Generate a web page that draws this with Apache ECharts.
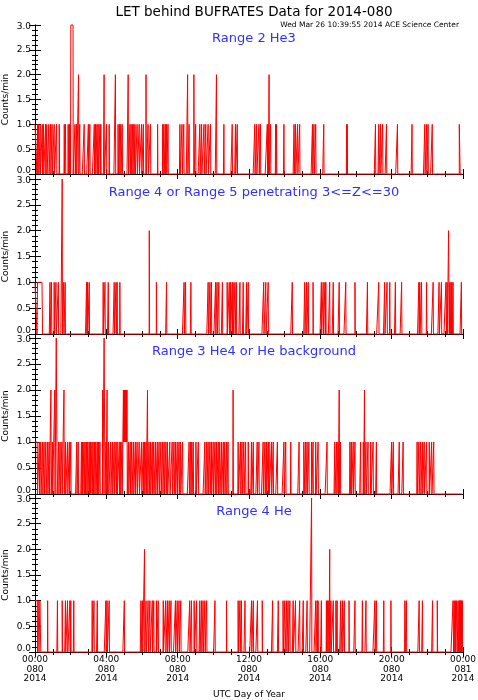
<!DOCTYPE html>
<html>
<head>
<meta charset="utf-8">
<title>LET behind BUFRATES Data for 2014-080</title>
<script src="https://cdn.jsdelivr.net/npm/echarts@6/dist/echarts.min.js"></script>
<style>
    html, body { margin: 0; padding: 0; background: #fff; }
    #chart { width: 478px; height: 700px; }
</style>
</head>
<body>
<div id="chart"></div>
<script>
var minutesPerDay = 1440;
var tickLabels = ['00:00\n080\n2014', '04:00\n080\n2014', '08:00\n080\n2014', '12:00\n080\n2014',
    '16:00\n080\n2014', '20:00\n080\n2014', '00:00\n081\n2014'];
var yTicks = ['0.0', '0.5', '1.0', '1.5', '2.0', '2.5', '3.0'];
var panelTitles = ['Range 2 He3', 'Range 4 or Range 5 penetrating 3<=Z<=30',
    'Range 3 He4 or He background', 'Range 4 He'];

// minute of day (0..1439) where the count is 1, 2 or 3; all other minutes read 0
var he3Ones = [0, 1, 2, 3, 4, 5, 6, 9, 13, 18, 25, 29, 36, 40, 47, 53, 58, 65, 73, 82, 99, 103, 112, 116, 119,
    135, 140, 151, 166, 180, 185, 200, 204, 209, 213, 219, 222, 241, 250, 280, 285, 289, 294, 320, 324, 329,
    333, 337, 344, 351, 359, 365, 381, 389, 413, 430, 434, 439, 443, 448, 488, 495, 501, 519, 541, 555, 561,
    569, 575, 583, 591, 636, 664, 675, 681, 740, 746, 754, 759, 782, 785, 793, 810, 813, 838, 872, 877, 884,
    891, 934, 939, 945, 972, 1049, 1051, 1146, 1157, 1163, 1170, 1183, 1220, 1269, 1312, 1318, 1323, 1337,
    1428, 1429, 1430];
var he3Twos = [147, 233, 271, 314, 374, 514, 535, 611, 788];
var he3Threes = [121, 122, 123, 124, 125, 126, 127, 128];

var penOnes = [0, 1, 2, 3, 4, 5, 6, 9, 10, 11, 12, 13, 14, 15, 16, 17, 18, 19, 20, 21, 22, 23, 24, 25, 51, 56,
    65, 71, 79, 97, 102, 174, 177, 183, 230, 236, 247, 267, 273, 277, 286, 409, 443, 502, 507, 525, 583, 589,
    594, 608, 613, 619, 631, 647, 654, 658, 664, 667, 673, 678, 690, 701, 712, 718, 770, 777, 785, 866, 908,
    914, 920, 936, 964, 970, 976, 979, 992, 1004, 1024, 1046, 1077, 1119, 1157, 1177, 1185, 1194, 1213, 1234,
    1292, 1295, 1301, 1318, 1340, 1360, 1368, 1383, 1384, 1387, 1388, 1390, 1391, 1393, 1394, 1396, 1397,
    1400, 1401, 1403, 1404, 1407, 1435];
var penTwos = [385, 1392];
var penThrees = [92];

var he4Ones = [0, 1, 2, 3, 4, 5, 6, 7, 8, 15, 20, 26, 31, 37, 43, 48, 59, 80, 85, 91, 103, 110, 116, 121, 141,
    146, 157, 160, 165, 169, 174, 178, 183, 187, 192, 196, 201, 205, 210, 214, 219, 239, 248, 255, 261, 267,
    273, 277, 284, 288, 293, 299, 301, 303, 305, 307, 309, 315, 321, 326, 332, 338, 344, 351, 359, 365, 369,
    374, 384, 389, 395, 400, 406, 412, 418, 424, 430, 435, 441, 446, 454, 462, 468, 473, 479, 485, 490, 497,
    519, 524, 528, 533, 542, 550, 572, 578, 583, 589, 594, 600, 606, 611, 617, 622, 628, 634, 639, 645, 650,
    684, 692, 697, 703, 709, 718, 729, 735, 748, 754, 768, 774, 779, 785, 788, 796, 802, 816, 838, 844, 861,
    889, 905, 911, 916, 922, 931, 936, 945, 953, 983, 1009, 1015, 1020, 1028, 1060, 1065, 1071, 1077, 1096,
    1105, 1114, 1121, 1130, 1138, 1149, 1200, 1206, 1226, 1239, 1286, 1292, 1298, 1304, 1310, 1318, 1327,
    1335, 1342];
var he4Twos = [54, 67, 98, 228, 243, 298, 300, 302, 304, 306, 308, 310, 379, 667, 1024, 1109];
var he4Threes = [72, 73, 74, 233, 234, 235];

var heOnes = [0, 1, 2, 3, 4, 5, 6, 7, 8, 11, 12, 13, 17, 18, 19, 43, 76, 92, 103, 110, 118, 121, 131, 193, 199,
    210, 239, 243, 250, 301, 357, 362, 374, 381, 387, 395, 400, 409, 415, 432, 440, 446, 452, 458, 473, 479,
    485, 491, 521, 527, 536, 544, 555, 561, 566, 572, 578, 606, 645, 684, 690, 695, 707, 729, 735, 749, 765,
    800, 819, 835, 841, 847, 852, 858, 869, 877, 891, 903, 916, 945, 950, 953, 964, 981, 985, 989, 996, 1004,
    1013, 1017, 1029, 1035, 1041, 1057, 1077, 1102, 1114, 1144, 1149, 1174, 1198, 1245, 1250, 1293, 1304,
    1338, 1354, 1407, 1408, 1411, 1412, 1415, 1419, 1420, 1424, 1428, 1430, 1432, 1435, 1437, 1439];
var heTwos = [369, 992];
var heThrees = [931];

function buildCounts(ones, twos, threes) {
    var counts = [];
    for (var i = 0; i < minutesPerDay; i++) counts.push(0);
    ones.forEach(function(m) { counts[m] = 1; });
    twos.forEach(function(m) { counts[m] = 2; });
    threes.forEach(function(m) { counts[m] = 3; });
    return counts.map(function(v, i) { return [i, v]; });
}

var panels = [
    buildCounts(he3Ones, he3Twos, he3Threes),
    buildCounts(penOnes, penTwos, penThrees),
    buildCounts(he4Ones, he4Twos, he4Threes),
    buildCounts(heOnes, heTwos, heThrees)
];

window.addEventListener('load', function() {
    var myChart = echarts.init(document.getElementById('chart'));
    var font = 'DejaVu Sans';
    var tops = [25, 179, 338, 498];
    var heights = [149, 155, 156, 154];

    var grids = [], xAxes = [], yAxes = [], series = [];
    var titles = [{
        text: 'LET behind BUFRATES Data for 2014-080',
        left: 249, top: 0, textAlign: 'center',
        textStyle: { fontFamily: font, fontSize: 13.5, fontWeight: 'normal', color: '#000' }
    }, {
        text: 'Wed Mar 26 10:39:55 2014 ACE Science Center',
        right: 14, top: 16,
        textStyle: { fontFamily: font, fontSize: 7.5, fontWeight: 'normal', color: '#000' }
    }];

    panels.forEach(function(data, p) {
        var last = p === panels.length - 1;
        grids.push({
            left: 35, right: 15, top: tops[p], height: heights[p],
            containLabel: false, outerBoundsMode: 'none'
        });

        var xBase = {
            gridIndex: p, type: 'value', min: 0, max: minutesPerDay, interval: 240,
            axisLine: { show: true, lineStyle: { color: '#000', width: 1 } },
            axisTick: { show: true, inside: true, length: 5, lineStyle: { color: '#000' } },
            minorTick: { show: true, splitNumber: 4, length: 3, lineStyle: { color: '#000' } },
            splitLine: { show: false }
        };
        xAxes.push(Object.assign({}, xBase, {
            position: 'bottom',
            axisLabel: {
                show: last, margin: 3, fontFamily: font, fontSize: 9, lineHeight: 9.5, color: '#000',
                formatter: function(v) { return tickLabels[Math.round(v / 240)]; }
            },
            name: last ? 'UTC Day of Year' : '',
            nameLocation: 'middle', nameGap: 38, nameMoveOverlap: false,
            nameTextStyle: { fontFamily: font, fontSize: 9, color: '#000' }
        }));
        xAxes.push(Object.assign({}, xBase, { position: 'top', axisLabel: { show: false } }));

        var yBase = {
            gridIndex: p, type: 'value', min: 0, max: 3, interval: 0.5,
            axisLine: { show: true, lineStyle: { color: '#000', width: 1 } },
            axisTick: { show: true, inside: true, length: 6, lineStyle: { color: '#000' } },
            minorTick: { show: true, splitNumber: 5, length: 3, lineStyle: { color: '#000' } },
            splitLine: { show: false }
        };
        yAxes.push(Object.assign({}, yBase, {
            position: 'left',
            axisLabel: {
                margin: 4, fontFamily: font, fontSize: 9, color: '#000',
                formatter: function(v) {
                    var i = Math.round(v * 2);
                    if (i === 0) return '{lo|' + yTicks[i] + '}';
                    if (i === yTicks.length - 1) return '{hi|' + yTicks[i] + '}';
                    return yTicks[i];
                },
                rich: {
                    lo: { fontFamily: font, fontSize: 9, color: '#000', padding: [0, 0, 6, 0] },
                    hi: { fontFamily: font, fontSize: 9, color: '#000', padding: [3, 0, 0, 0] }
                }
            },
            name: 'Counts/min', nameLocation: 'middle', nameGap: 25, nameRotate: 90,
            nameMoveOverlap: false,
            nameTextStyle: { fontFamily: font, fontSize: 9, color: '#000' }
        }));
        yAxes.push(Object.assign({}, yBase, { position: 'right', axisLabel: { show: false } }));

        titles.push({
            text: panelTitles[p],
            left: 249, top: tops[p] + 2, textAlign: 'center',
            textStyle: { fontFamily: font, fontSize: 13, fontWeight: 'normal', color: '#3030ff' }
        });

        series.push({
            type: 'line',
            xAxisIndex: p * 2,
            yAxisIndex: p * 2,
            data: data,
            step: 'middle',
            symbol: 'none',
            clip: false,
            lineStyle: { color: '#ff0000', width: 1 },
            z: 3
        });
    });

    var option = {
        animation: false,
        backgroundColor: '#fff',
        title: titles,
        grid: grids,
        xAxis: xAxes,
        yAxis: yAxes,
        series: series
    };
    myChart.setOption(option);
});
</script>
</body>
</html>
